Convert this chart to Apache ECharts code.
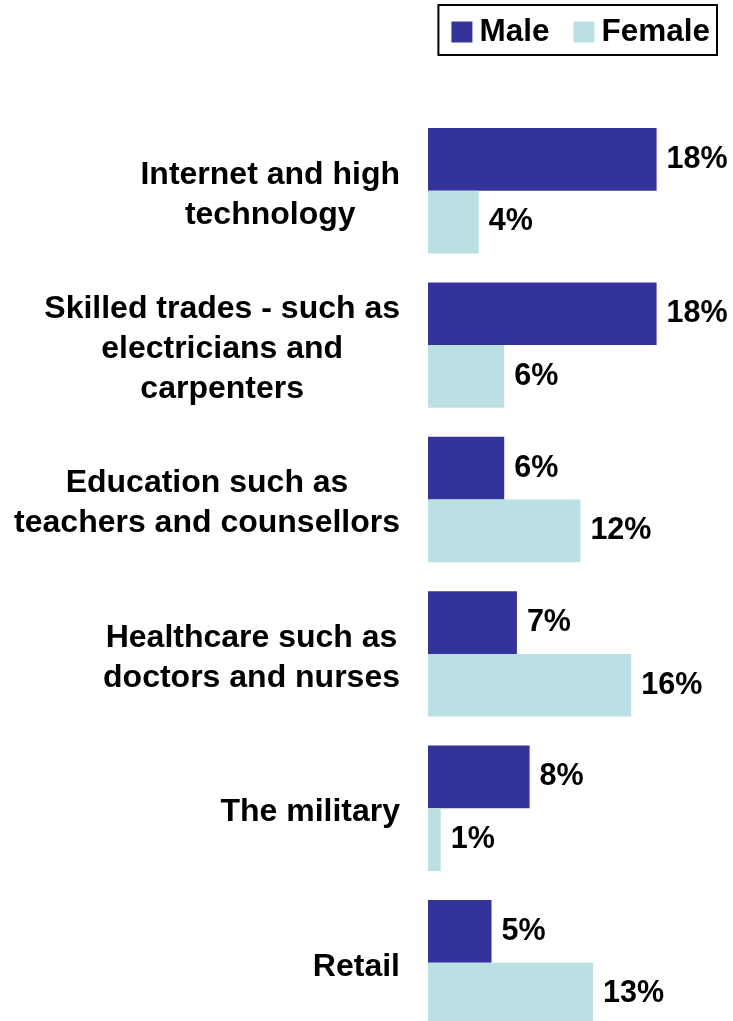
<!DOCTYPE html>
<html>
<head>
<meta charset="utf-8">
<script src="https://cdn.jsdelivr.net/npm/echarts@6/dist/echarts.min.js"></script>
<style>
  html, body { margin: 0; padding: 0; background: #fff; }
  #chart { width: 733px; height: 1021px; }
</style>
</head>
<body>
<div id="chart"></div>
<script>
const categories = [
  'Internet and high\ntechnology',
  'Skilled trades - such as\nelectricians and\ncarpenters',
  'Education such as\nteachers and counsellors',
  'Healthcare such as\ndoctors and nurses',
  'The military',
  'Retail'
]
const maleValues = [18, 18, 6, 7, 8, 5]
const femaleValues = [4, 6, 12, 16, 1, 13]

const font = 'Liberation Sans, Arial, Helvetica, sans-serif'

const valueLabel = {
  show: true,
  position: 'right',
  distance: 10,
  formatter: '{c}%',
  fontFamily: font,
  fontSize: 30.5,
  fontWeight: 'bold',
  color: '#000',
  padding: [3, 0, 0, 0]
}

const chart = echarts.init(document.getElementById('chart'))
chart.setOption({
  animation: false,
  legend: {
    data: ['Male', 'Female'],
    right: 16,
    top: 5,
    icon: 'rect',
    itemWidth: 21,
    itemHeight: 21,
    itemGap: 24,
    borderColor: '#000',
    borderWidth: 2,
    borderRadius: 0,
    padding: [11, 7, 7, 13],
    textStyle: {
      fontFamily: font,
      fontSize: 31.5,
      fontWeight: 'bold',
      color: '#000',
      padding: [0, 0, 0, 2]
    }
  },
  grid: {
    left: 428,
    top: 113.5,
    width: 254,
    height: 926.4,
    outerBoundsMode: 'none',
    containLabel: false
  },
  xAxis: {
    type: 'value',
    min: 0,
    max: 20,
    show: false
  },
  yAxis: {
    type: 'category',
    data: categories,
    inverse: true,
    axisLine: { show: false },
    axisTick: { show: false },
    splitLine: { show: false },
    axisLabel: {
      margin: 28,
      padding: [8, 0, 0, 0],
      formatter: value => value.split('\n').map(l => '{c|' + l + '}').join('\n'),
      rich: {
        c: {
          align: 'center',
          fontFamily: font,
          fontSize: 32,
          fontWeight: 'bold',
          color: '#000',
          lineHeight: 40
        }
      }
    }
  },
  series: [{
    name: 'Male',
    type: 'bar',
    data: maleValues,
    barWidth: 62.7,
    barGap: '0%',
    itemStyle: { color: '#333399' },
    label: valueLabel
  }, {
    name: 'Female',
    type: 'bar',
    data: femaleValues,
    barWidth: 62.7,
    barGap: '0%',
    itemStyle: { color: '#bbe0e3' },
    label: valueLabel
  }]
})
</script>
</body>
</html>
